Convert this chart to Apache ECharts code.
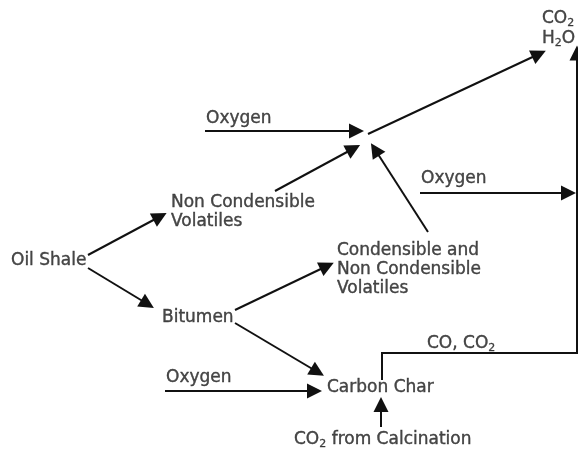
<!doctype html>
<html lang="en">
<head>
  <meta charset="UTF-8">
  <title>Oil Shale</title>
  <script src="https://cdn.jsdelivr.net/npm/echarts@6/dist/echarts.min.js"></script>
  <style>
    html, body { margin: 0; padding: 0; background: #fff; }
    #chart { width: 578px; height: 451px; }
  </style>
</head>
<body>
<div id="chart"></div>
<script>
  // labels of the diagram and where they sit (left edge, vertical centre)
  var labels = [
    'Oil Shale',
    'Non Condensible\nVolatiles',
    'Bitumen',
    'Condensible and\nNon Condensible\nVolatiles',
    'Carbon Char',
    'Oxygen',
    'Oxygen',
    'Oxygen',
    'CO, CO{s|2}',
    'CO{s|2} from Calcination',
    'CO{s|2}',
    'H{s|2}O'
  ];
  var labelX = [11, 171, 162, 337, 327, 206, 421, 166, 427, 294, 542, 542];
  var labelY = [261, 212, 318, 270, 388, 119, 179, 378, 344, 440, 19, 39];

  // arrows: start point, end point (centre of the head)
  var arrows = [
    [[88, 255], [160, 216.5]],
    [[88, 268], [147.5, 304]],
    [[275, 191], [353.5, 148.5]],
    [[205, 131], [356.5, 131]],
    [[368, 134], [539, 54]],
    [[428, 232], [375, 149.5]],
    [[420, 193], [568.5, 193]],
    [[235, 310], [327, 266]],
    [[235, 323], [317.5, 372]],
    [[165, 391], [314.5, 391]],
    [[381, 427], [381, 404.5]],
    [[577, 354], [577, 53]]
  ];
  // CO, CO2 path from the char over to the right side
  var gasPath = [[382, 380], [382, 353], [577, 353]];

  var chart = echarts.init(document.getElementById('chart'));

  var textData = [];
  for (var i = 0; i < labels.length; i++) {
    textData.push({
      value: [labelX[i], labelY[i]],
      label: { formatter: labels[i] }
    });
  }

  var arrowData = arrows.map(function (a) {
    return { coords: a };
  });

  var option = {
    backgroundColor: '#fff',
    animation: false,
    grid: { left: 0, right: 0, top: 0, bottom: 0 },
    xAxis: { type: 'value', min: 0, max: 578, show: false },
    yAxis: { type: 'value', min: 0, max: 451, inverse: true, show: false },
    series: [
      {
        type: 'lines',
        coordinateSystem: 'cartesian2d',
        symbol: ['none', 'triangle'],
        symbolSize: [9, 15],
        lineStyle: { color: '#111', width: 2, opacity: 1, curveness: 0 },
        data: arrowData
      },
      {
        type: 'lines',
        coordinateSystem: 'cartesian2d',
        polyline: true,
        symbol: 'none',
        lineStyle: { color: '#111', width: 2, opacity: 1 },
        data: [{ coords: gasPath }]
      },
      {
        type: 'scatter',
        symbolSize: 0,
        label: {
          show: true,
          position: 'right',
          distance: 0,
          color: '#1a1a1a',
          textBorderColor: '#1a1a1a',
          textBorderWidth: 0.4,
          fontFamily: 'DejaVu Sans',
          fontSize: 17,
          lineHeight: 19,
          align: 'left',
          rich: {
            s: {
              fontSize: 11, verticalAlign: 'bottom', fontFamily: 'DejaVu Sans',
              color: '#1a1a1a', textBorderColor: '#1a1a1a', textBorderWidth: 0.3
            }
          }
        },
        data: textData
      }
    ]
  };

  chart.setOption(option);
</script>
</body>
</html>
